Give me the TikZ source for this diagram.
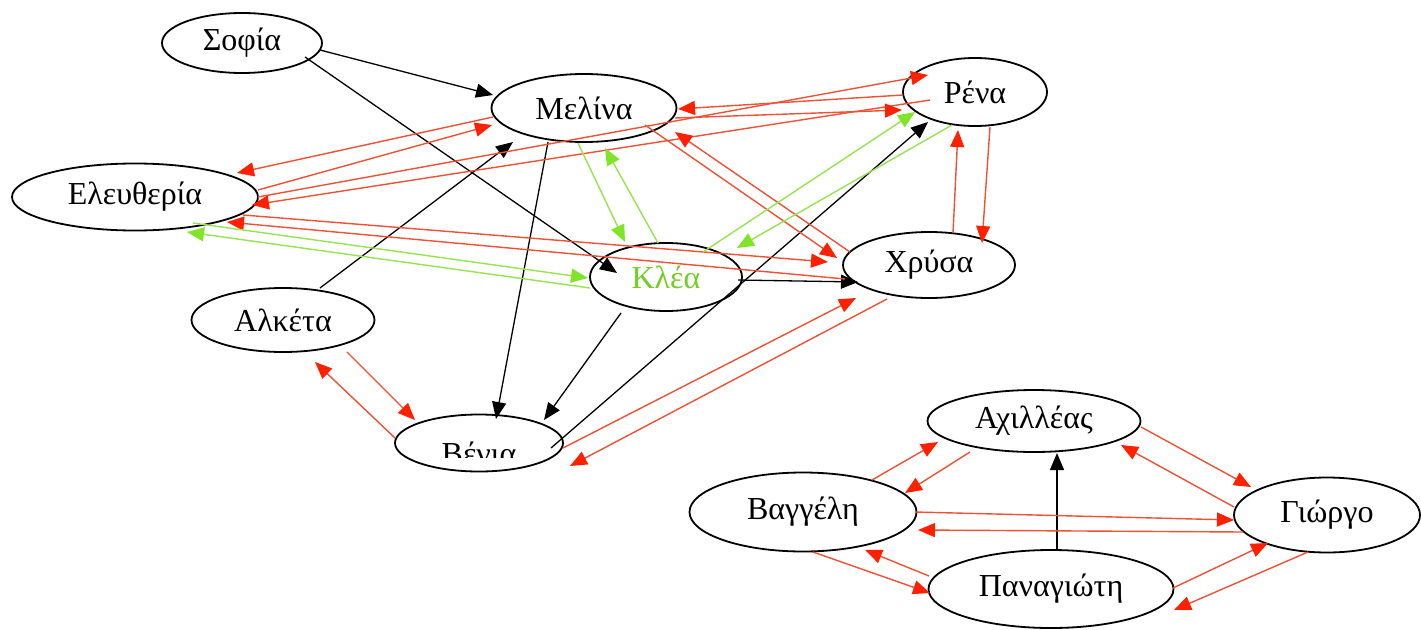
\documentclass[tikz,border=0pt]{standalone}
\usepackage{fontspec}
\setmainfont{Liberation Serif}
\usetikzlibrary{shapes.geometric,arrows.meta}
\definecolor{lred}{RGB}{238,82,52}
\definecolor{hred}{RGB}{255,32,0}
\definecolor{lgreen}{RGB}{150,228,80}
\definecolor{hgreen}{RGB}{128,228,40}
\begin{document}
\begin{tikzpicture}[x=1pt,y=-1pt,
  person/.style={ellipse,draw=black,line width=1.8pt,inner sep=0pt,font=\fontsize{32}{38}\selectfont},
  lbl/.style={inner sep=0pt,font=\fontsize{32}{38}\selectfont},
  blk/.style={draw=black,line width=1.3pt,-{Triangle[length=17pt,width=14pt,color=black]}},
  rd/.style={draw=lred,line width=1.4pt,-{Triangle[length=17pt,width=14pt,color=hred]}},
  gr/.style={draw=lgreen,line width=1.4pt,-{Triangle[length=17pt,width=14pt,color=hgreen]}},
]
\useasboundingbox[fill=white] (0,0) rectangle (1421,629);

% nodes
\node[person,minimum width=160pt,minimum height=60pt] (sofia) at (242,43) {Σοφία};
\node[person,minimum width=185pt,minimum height=68pt] (melina) at (584,108) {Μελίνα};
\node[person,minimum width=144pt,minimum height=68pt] (rena) at (975,92) {Ρένα};
\node[person,minimum width=246pt,minimum height=67pt] (elef) at (135,197) {Ελευθερία};
\node[person,minimum width=152pt,minimum height=68pt,text=hgreen!90!black] (klea) at (666,277) {Κλέα};
\node[person,minimum width=172pt,minimum height=66pt] (chrysa) at (929,265) {Χρύσα};
\node[person,minimum width=183pt,minimum height=64pt] (alketa) at (283,320) {Αλκέτα};
\node[person,minimum width=168pt,minimum height=57pt] (venia) at (479,443) {};
\begin{scope}
\clip ([shift={(-84,-30)}]venia.center) rectangle ([shift={(84,14)}]venia.center);
\node[lbl,anchor=base] (venialbl) at ([shift={(0,21)}]venia.center) {Βένια};
\end{scope}
\node[person,minimum width=213pt,minimum height=62pt] (achil) at (1034,421) {Αχιλλέας};
\node[person,minimum width=227pt,minimum height=79pt] (vangeli) at (803,512) {Βαγγέλη};
\node[person,minimum width=186pt,minimum height=75pt] (giorgo) at (1327,515) {Γιώργο};
\node[person,minimum width=245pt,minimum height=78pt] (panag) at (1051,589) {Παναγιώτη};

% black
\draw[blk] ([shift={(78,7)}]sofia.center) -- ([shift={(-91,-13)}]melina.center);
\draw[blk] ([shift={(63,14)}]sofia.center) -- ([shift={(-49,-4)}]klea.center);
\draw[blk] ([shift={(37,-32)}]alketa.center) -- ([shift={(-71,34)}]melina.center);
\draw[blk] ([shift={(-36,34)}]melina.center) -- ([shift={(17,-24)}]venia.center);
\draw[blk] ([shift={(-45,36)}]klea.center) -- ([shift={(65,-23)}]venia.center);
\draw[blk] ([shift={(72,5)}]venia.center) -- ([shift={(-47,30)}]rena.center);
\draw[blk] ([shift={(72,3)}]klea.center) -- ([shift={(-71,17)}]chrysa.center);
\draw[blk] ([shift={(6,-39)}]panag.center) -- ([shift={(23,32)}]achil.center);

% red
\draw[rd] ([shift={(-91,9)}]melina.center) -- ([shift={(102,-24)}]elef.center);
\draw[rd] ([shift={(123,-7)}]elef.center) -- ([shift={(-92,17)}]melina.center);
\draw[rd] ([shift={(123,0)}]elef.center) -- ([shift={(-47,-17)}]rena.center);
\draw[rd] ([shift={(-45,8)}]rena.center) -- ([shift={(117,8)}]elef.center);
\draw[rd] ([shift={(-72,3)}]rena.center) -- ([shift={(94,1)}]melina.center);
\draw[rd] ([shift={(91,10)}]melina.center) -- ([shift={(-73,18)}]rena.center);
\draw[rd] ([shift={(61,17)}]melina.center) -- ([shift={(-92,-7)}]chrysa.center);
\draw[rd] ([shift={(-79,-13)}]chrysa.center) -- ([shift={(91,24)}]melina.center);
\draw[rd] ([shift={(108,18)}]elef.center) -- ([shift={(-101,-3)}]chrysa.center);
\draw[rd] ([shift={(-84,14)}]chrysa.center) -- ([shift={(92,25)}]elef.center);
\draw[rd] ([shift={(15,35)}]rena.center) -- ([shift={(53,-22)}]chrysa.center);
\draw[rd] ([shift={(24,-32)}]chrysa.center) -- ([shift={(-17,38)}]rena.center);
\draw[rd] ([shift={(84,5)}]venia.center) -- ([shift={(-73,33)}]chrysa.center);
\draw[rd] ([shift={(-42,34)}]chrysa.center) -- ([shift={(91,23)}]venia.center);
\draw[rd] ([shift={(64,32)}]alketa.center) -- ([shift={(-64,-23)}]venia.center);
\draw[rd] ([shift={(-84,-5)}]venia.center) -- ([shift={(32,42)}]alketa.center);

\draw[rd] ([shift={(69,-32)}]vangeli.center) -- ([shift={(-96,21)}]achil.center);
\draw[rd] ([shift={(-64,31)}]achil.center) -- ([shift={(102,-19)}]vangeli.center);
\draw[rd] ([shift={(107,6)}]achil.center) -- ([shift={(-76,-28)}]giorgo.center);
\draw[rd] ([shift={(-93,-8)}]giorgo.center) -- ([shift={(87,24)}]achil.center);
\draw[rd] ([shift={(112,0)}]vangeli.center) -- ([shift={(-93,5)}]giorgo.center);
\draw[rd] ([shift={(-84,17)}]giorgo.center) -- ([shift={(115,18)}]vangeli.center);
\draw[rd] ([shift={(-122,-13)}]panag.center) -- ([shift={(62,38)}]vangeli.center);
\draw[rd] ([shift={(10,40)}]vangeli.center) -- ([shift={(-121,4)}]panag.center);
\draw[rd] ([shift={(122,-1)}]panag.center) -- ([shift={(-59,28)}]giorgo.center);
\draw[rd] ([shift={(-19,37)}]giorgo.center) -- ([shift={(123,21)}]panag.center);

% green
\draw[gr] ([shift={(58,26)}]elef.center) -- ([shift={(-78,1)}]klea.center);
\draw[gr] ([shift={(-76,11)}]klea.center) -- ([shift={(52,35)}]elef.center);
\draw[gr] ([shift={(-6,35)}]melina.center) -- ([shift={(-41,-35)}]klea.center);
\draw[gr] ([shift={(-8,-34)}]klea.center) -- ([shift={(21,40)}]melina.center);
\draw[gr] ([shift={(37,-25)}]klea.center) -- ([shift={(-60,20)}]rena.center);
\draw[gr] ([shift={(-23,33)}]rena.center) -- ([shift={(71,-29)}]klea.center);
\end{tikzpicture}
\end{document}
